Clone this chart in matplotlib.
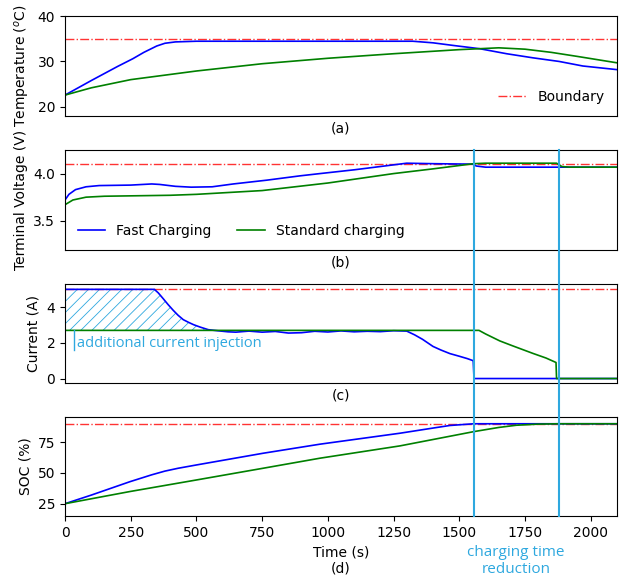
import matplotlib
matplotlib.use("Agg")
import matplotlib.pyplot as plt
import matplotlib.transforms as mtransforms
from matplotlib.lines import Line2D
import numpy as np

# (a) temperature
t_temp_fast = [0, 100, 200, 258, 300, 349, 380, 420, 500, 800, 1100, 1323, 1400, 1480, 1578, 1680, 1780, 1880, 1970, 2100]
temp_fast = [22.6, 25.8, 28.9, 30.6, 32.0, 33.4, 34.0, 34.3, 34.45, 34.45, 34.45, 34.45, 34.1, 33.5, 32.8, 31.7, 30.8, 30.0, 29.0, 28.2]
t_temp_std = [0, 100, 250, 500, 750, 1000, 1250, 1500, 1650, 1750, 1850, 1950, 2100]
temp_std = [22.6, 24.2, 26.0, 27.9, 29.5, 30.7, 31.7, 32.6, 33.0, 32.7, 32.0, 31.1, 29.7]

# (b) terminal voltage
t_volt_fast = [0, 15, 40, 80, 130, 250, 330, 360, 420, 480, 560, 640, 767, 894, 970, 1100, 1200, 1300, 1400, 1550, 1565, 1600, 2100]
volt_fast = [3.72, 3.78, 3.83, 3.86, 3.873, 3.878, 3.89, 3.885, 3.865, 3.856, 3.86, 3.89, 3.93, 3.976, 4.0, 4.04, 4.075, 4.11, 4.105, 4.1, 4.08, 4.068, 4.068]
t_volt_std = [0, 30, 80, 150, 400, 500, 750, 1000, 1250, 1400, 1555, 1600, 1870, 1890, 1920, 2100]
volt_std = [3.67, 3.72, 3.75, 3.76, 3.77, 3.78, 3.82, 3.9, 4.0, 4.05, 4.105, 4.11, 4.11, 4.075, 4.068, 4.068]

# (c) current
t_cur_fast = [0, 340, 355, 374, 392, 412, 430, 450, 470, 489, 515, 545, 580, 620, 650, 700, 750, 800, 850, 900,
              950, 1000, 1050, 1100, 1150, 1200, 1250, 1300, 1330, 1360, 1400, 1430, 1464, 1500, 1530, 1553, 1556, 2100]
cur_fast = [5.0, 5.0, 4.8, 4.47, 4.15, 3.82, 3.55, 3.3, 3.15, 3.02, 2.88, 2.74, 2.68, 2.62, 2.6, 2.66, 2.6, 2.64, 2.55, 2.57,
            2.65, 2.61, 2.67, 2.62, 2.65, 2.63, 2.68, 2.66, 2.45, 2.2, 1.8, 1.6, 1.4, 1.25, 1.12, 1.0, 0.0, 0.0]
t_cur_std = [0, 1575, 1600, 1654, 1700, 1780, 1830, 1868, 1870, 2100]
cur_std = [2.7, 2.7, 2.5, 2.11, 1.85, 1.41, 1.15, 0.9, 0.0, 0.0]

# (d) state of charge
t_soc_fast = [0, 100, 247, 330, 380, 430, 500, 753, 970, 1274, 1400, 1464, 1555, 2100]
soc_fast = [25, 32, 42.9, 48.5, 51.5, 53.8, 56.5, 66, 73.4, 82.3, 86.5, 88.6, 90, 90]
t_soc_std = [0, 247, 500, 753, 970, 1274, 1555, 1650, 1717, 1800, 1878, 2100]
soc_std = [25, 34.9, 44.3, 53.8, 62, 72, 83.6, 87, 88.8, 89.7, 90, 90]

boundaries = [35, 4.1, 5, 90]
t_fast_end = 1555
t_std_end = 1878

fast_c = "blue"
std_c = "green"
note_c = "#2ea8df"
note_font = ["Open Sans", "DejaVu Sans"]

plt.rcParams["hatch.linewidth"] = 0.6

fig = plt.figure(figsize=(6.28, 5.79), dpi=100)
W, H = 628, 579
boxes = [(16, 116), (150, 250), (284, 383), (417, 516)]
axes = []
for top, bot in boxes:
    axes.append(fig.add_axes([65 / W, 1 - bot / H, 552 / W, (bot - top) / H]))
ax_a, ax_b, ax_c, ax_d = axes

for ax, b in zip(axes, boundaries):
    ax.axhline(b, color="red", ls="-.", lw=1, alpha=0.8, label="Boundary")
    ax.set_xlim(0, 2100)

ax_a.plot(t_temp_fast, temp_fast, color=fast_c, lw=1.2)
ax_a.plot(t_temp_std, temp_std, color=std_c, lw=1.2)
ax_a.set_ylim(18, 40)
ax_a.set_yticks([20, 30, 40])
ax_a.set_ylabel("Temperature ($^o$C)")
ax_a.set_xlabel("(a)")
ax_a.set_xticks([])
ax_a.legend(loc="lower right", frameon=False)

ax_b.plot(t_volt_fast, volt_fast, color=fast_c, lw=1.2, label="Fast Charging")
ax_b.plot(t_volt_std, volt_std, color=std_c, lw=1.2, label="Standard charging")
ax_b.set_ylim(3.19, 4.25)
ax_b.set_yticks([3.5, 4.0])
ax_b.set_ylabel("Terminal Voltage (V)")
ax_b.set_xlabel("(b)")
ax_b.set_xticks([])
h, l = ax_b.get_legend_handles_labels()
ax_b.legend(h[1:], l[1:], loc="lower left", ncol=2, frameon=False, columnspacing=1.8)

tf = np.array(t_cur_fast)
cf = np.array(cur_fast)
m = tf <= 560
ax_c.fill_between(tf[m], cf[m], cur_std[0], facecolor="none", edgecolor=note_c, hatch="///", lw=0)
ax_c.plot(t_cur_fast, cur_fast, color=fast_c, lw=1.2)
ax_c.plot(t_cur_std, cur_std, color=std_c, lw=1.2)
ax_c.set_ylim(-0.25, 5.3)
ax_c.set_yticks([0, 2, 4])
ax_c.set_ylabel("Current (A)")
ax_c.set_xlabel("(c)")
ax_c.set_xticks([])
ax_c.plot([34, 34], [cur_std[0], 1.6], color=note_c, lw=1)
ax_c.text(45, 1.95, "additional current injection", color=note_c, fontsize=10.5,
          family=note_font, va="center", ha="left")

ax_d.plot(t_soc_fast, soc_fast, color=fast_c, lw=1.2)
ax_d.plot(t_soc_std, soc_std, color=std_c, lw=1.2)
ax_d.set_ylim(15, 95.5)
ax_d.set_yticks([25, 50, 75])
ax_d.set_ylabel("SOC (%)")
ax_d.set_xticks(np.arange(0, 2001, 250))
ax_d.set_xlabel("Time (s)\n(d)")

# vertical markers across (b)-(d)
trans = mtransforms.blended_transform_factory(ax_d.transData, fig.transFigure)
for x in [t_fast_end, t_std_end]:
    fig.add_artist(Line2D([x, x], [1 - 516 / H, 1 - 150 / H], transform=trans, color=note_c, lw=1.5))
fig.text((t_fast_end + t_std_end) / 2, 1 - 561 / H, "charging time\nreduction", transform=trans,
         color=note_c, fontsize=11, family=note_font, ha="center", va="center", linespacing=1.1)

fig.savefig("out.png", dpi=100)
